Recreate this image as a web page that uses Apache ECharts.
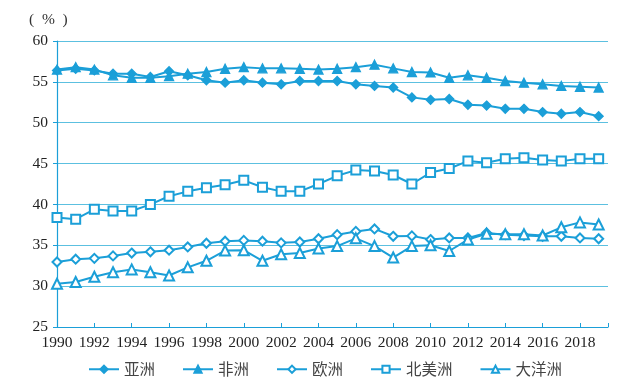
<!DOCTYPE html>
<html><head><meta charset="utf-8">
<script src="https://cdn.jsdelivr.net/npm/echarts@6/dist/echarts.min.js"></script>
<style>html,body{margin:0;padding:0;background:#fff}#c{width:624px;height:388px}</style>
</head><body><div id="c"></div>
<script>
var years = [1990,1991,1992,1993,1994,1995,1996,1997,1998,1999,2000,2001,2002,2003,2004,2005,2006,2007,2008,2009,2010,2011,2012,2013,2014,2015,2016,2017,2018,2019];
var seriesNames = ['亚洲','非洲','欧洲','北美洲','大洋洲'];
var asia    = [56.4,56.6,56.4,56.0,56.0,55.6,56.3,55.8,55.2,54.9,55.2,54.9,54.7,55.1,55.1,55.1,54.7,54.5,54.3,53.1,52.8,52.9,52.2,52.1,51.7,51.7,51.3,51.1,51.3,50.8];
var africa  = [56.5,56.8,56.5,55.8,55.5,55.5,55.7,56.0,56.2,56.6,56.8,56.65,56.65,56.6,56.5,56.6,56.8,57.1,56.65,56.2,56.15,55.5,55.8,55.5,55.1,54.9,54.7,54.5,54.4,54.3];
var europe  = [32.95,33.3,33.4,33.7,34.05,34.2,34.4,34.8,35.25,35.5,35.6,35.5,35.3,35.4,35.8,36.3,36.7,37.0,36.1,36.15,35.7,35.9,35.9,36.5,36.3,36.2,36.1,36.1,35.9,35.8];
var namerica= [38.4,38.2,39.4,39.2,39.2,40.0,41.0,41.6,42.05,42.4,42.95,42.1,41.6,41.6,42.5,43.5,44.2,44.1,43.6,42.5,43.9,44.4,45.3,45.1,45.6,45.7,45.45,45.3,45.6,45.6];
var oceania = [30.3,30.5,31.15,31.7,32.05,31.7,31.3,32.3,33.1,34.35,34.4,33.1,33.9,34.05,34.6,34.9,35.85,34.9,33.5,34.9,35.0,34.3,35.7,36.4,36.35,36.35,36.2,37.2,37.8,37.55];
var yTicks = [25,30,35,40,45,50,55,60];

var C = '#1b9fd8', G = '#5cc0e0';
function pairs(arr){ return years.map(function(y,i){ return [y, arr[i]]; }); }
var defs = [
  {d: asia, s: 'diamond', size: 9},
  {d: africa, s: 'triangle', size: 9},
  {d: europe, s: 'emptyDiamond', size: 9},
  {d: namerica, s: 'emptyRect', size: 9},
  {d: oceania, s: 'emptyTriangle', size: 10}
];
var series = defs.map(function(o, i){
  return {
    name: seriesNames[i], type: 'line', data: pairs(o.d),
    symbol: o.s, symbolSize: o.size, showAllSymbol: true,
    lineStyle: {color: C, width: 2},
    itemStyle: {color: C, borderColor: C, borderWidth: 1.3},
    animation: false
  };
});
var chart = echarts.init(document.getElementById('c'), null, {renderer: 'canvas'});
chart.setOption({
  animation: false,
  title: {text: '(  %  )', left: 24, top: 7, textStyle: {fontFamily: 'Liberation Serif', fontWeight: 'normal', fontSize: 15.5, color: '#333'}},
  grid: {left: 57, right: 16, top: 41, bottom: 61, containLabel: false},
  xAxis: {
    type: 'value', min: 1990, max: 2019.5, interval: 2,
    axisLine: {lineStyle: {color: C, width: 1.2}},
    axisTick: {show: true, inside: true, length: 4, lineStyle: {color: C}},
    splitLine: {show: false},
    axisLabel: {color: '#222', fontFamily: 'Liberation Serif', fontSize: 15.5, margin: 8,
      formatter: function(v){ return (v % 2 === 0) ? String(v) : ''; }}
  },
  yAxis: {
    type: 'value', min: yTicks[0], max: yTicks[yTicks.length-1], interval: 5,
    axisLine: {show: true, lineStyle: {color: C, width: 1.2}},
    axisTick: {show: true, length: 4, lineStyle: {color: C}},
    splitLine: {show: true, lineStyle: {color: G, width: 1.2}},
    axisLabel: {color: '#222', fontFamily: 'Liberation Serif', fontSize: 15.5, margin: 9}
  },
  legend: {
    bottom: 6, left: 83, itemGap: 27, itemWidth: 30, itemHeight: 9,
    textStyle: {fontFamily: 'Noto Sans CJK SC', fontSize: 15.5, color: '#444'},
    data: seriesNames
  },
  series: series
});
</script></body></html>
